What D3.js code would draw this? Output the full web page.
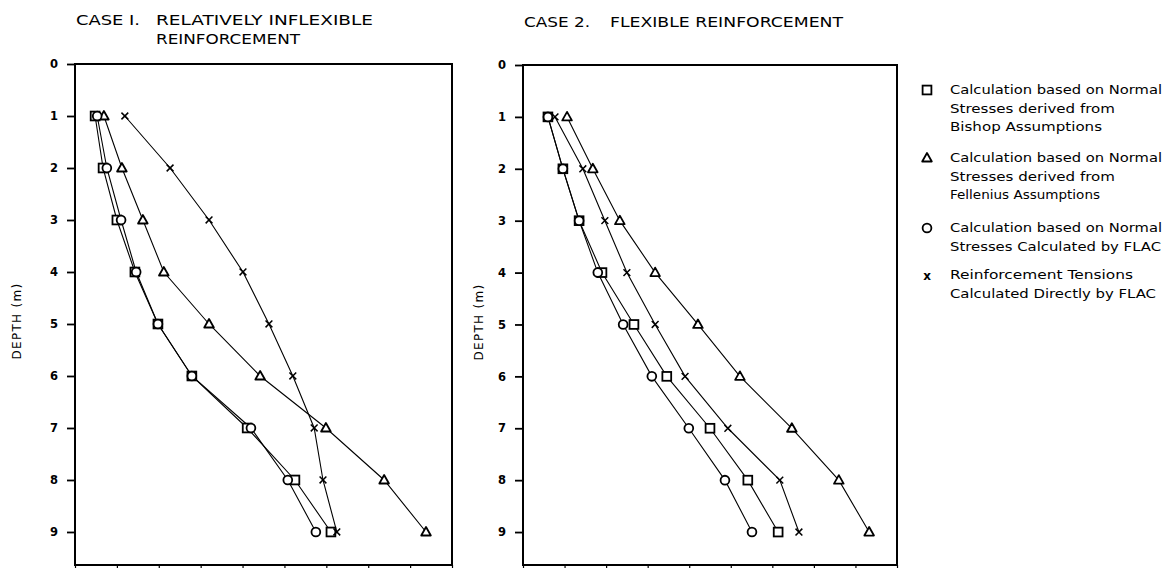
<!DOCTYPE html>
<html><head><meta charset="utf-8">
<script src="https://cdn.jsdelivr.net/npm/d3@7/dist/d3.min.js"></script>
<style>body{margin:0;background:#fff}svg{display:block}text{font-family:"DejaVu Sans",sans-serif;fill:#000}</style>
</head><body>
<svg id="c" width="1163" height="568"></svg>
<script>
// Data (x in axis tick units, unlabeled in source; depth in m)
const depths = [1,2,3,4,5,6,7,8,9];
const yTicks = [0,1,2,3,4,5,6,7,8,9];
const xTicks = [0,1,2,3,4,5,6,7,8,9];

const case1Bishop    = [0.48,0.67,1.00,1.43,1.98,2.79,4.11,5.25,6.11];
const case1Fellenius = [0.69,1.12,1.62,2.12,3.20,4.42,5.99,7.38,8.38];
const case1Flac      = [0.53,0.76,1.10,1.46,1.98,2.79,4.20,5.08,5.75];
const case1Direct    = [1.19,2.27,3.20,4.01,4.63,5.20,5.71,5.92,6.25];

const case2Bishop    = [0.60,0.96,1.35,1.90,2.67,3.46,4.50,5.41,6.14];
const case2Fellenius = [1.06,1.68,2.33,3.18,4.21,5.22,6.47,7.60,8.33];
const case2Flac      = [0.60,0.96,1.35,1.80,2.41,3.10,3.99,4.86,5.51];
const case2Direct    = [0.77,1.44,1.97,2.50,3.18,3.90,4.93,6.18,6.64];

const seriesSymbols = ["square","triangle","circle","cross"];
const legendLines = [
  ["Calculation based on Normal","Stresses derived from","Bishop  Assumptions"],
  ["Calculation based on Normal","Stresses derived from","Fellenius Assumptions"],
  ["Calculation based on Normal","Stresses Calculated by FLAC"],
  ["Reinforcement Tensions","Calculated Directly by FLAC"]
];

const svg = d3.select("#c");

function marker(g, type, x, y){
  const s = 4.4;
  if(type==="square"){
    g.append("rect").attr("x",x-s).attr("y",y-s).attr("width",2*s).attr("height",2*s)
      .attr("fill","#fff").attr("stroke","#000").attr("stroke-width",1.8);
  } else if(type==="circle"){
    g.append("circle").attr("cx",x).attr("cy",y).attr("r",4.4)
      .attr("fill","#fff").attr("stroke","#000").attr("stroke-width",1.8);
  } else if(type==="triangle"){
    g.append("path").attr("d",`M${x},${y-5}L${x+4.8},${y+3.5}L${x-4.8},${y+3.5}Z`)
      .attr("fill","#fff").attr("stroke","#000").attr("stroke-width",1.8).attr("stroke-linejoin","round");
  } else {
    const c=3.4;
    g.append("path").attr("d",`M${x-c},${y-c}L${x+c},${y+c}M${x+c},${y-c}L${x-c},${y+c}`)
      .attr("stroke","#000").attr("stroke-width",1.5).attr("fill","none");
  }
}

function panel(cfg){
  const x = d3.scaleLinear().domain([0,9]).range([cfg.x0,cfg.x1]);
  const y = d3.scaleLinear().domain([0,9.635]).range([cfg.y0,cfg.y1]);
  const g = svg.append("g");

  // y axis
  const ya = g.append("g").attr("transform",`translate(${cfg.x0},0)`)
    .call(d3.axisLeft(y).tickValues(yTicks).tickSize(8).tickPadding(9).tickFormat(d3.format("d")));
  ya.select(".domain").remove();
  ya.selectAll(".tick line").attr("stroke","#000").attr("stroke-width",1.8);
  ya.selectAll(".tick text").attr("font-size",11.5).attr("font-weight","bold")
    .attr("font-family","'DejaVu Sans',sans-serif").attr("fill","#000");

  // x axis (unlabeled)
  const xa = g.append("g").attr("transform",`translate(0,${cfg.y1})`)
    .call(d3.axisBottom(x).tickValues(xTicks).tickSize(4).tickFormat(""));
  xa.select(".domain").remove();
  xa.selectAll(".tick line").attr("stroke","#000").attr("stroke-width",1.2);

  // frame
  g.append("rect").attr("x",cfg.x0).attr("y",cfg.y0).attr("width",cfg.x1-cfg.x0).attr("height",cfg.y1-cfg.y0)
    .attr("fill","none").attr("stroke","#000").attr("stroke-width",2);

  // series
  const line = d3.line().x(d=>x(d[0])).y(d=>y(d[1]));
  cfg.series.forEach((vals,i)=>{
    const pts = vals.map((v,k)=>[v,depths[k]]);
    g.append("path").attr("d",line(pts)).attr("fill","none").attr("stroke","#000").attr("stroke-width",1.1);
  });
  cfg.series.forEach((vals,i)=>{
    vals.forEach((v,k)=>marker(g, seriesSymbols[i], x(v), y(depths[k])));
  });

  // depth label
  g.append("text").attr("transform",`translate(${cfg.labelX},${cfg.labelY}) rotate(-90)`)
    .attr("text-anchor","middle").attr("font-size",12).attr("letter-spacing",1.3)
    .text("DEPTH (m)");

  // title
  cfg.title.forEach(t=>{
    g.append("text").attr("x",t.x).attr("y",t.y).attr("font-size",14.5)
      .attr("textLength",t.w).attr("lengthAdjust","spacingAndGlyphs").text(t.s);
  });
}

panel({x0:75,x1:452,y0:64,y1:565,labelX:21,labelY:321,
  series:[case1Bishop,case1Fellenius,case1Flac,case1Direct],
  title:[{s:"CASE I.",x:76,y:25,w:64},{s:"RELATIVELY INFLEXIBLE",x:156,y:25,w:217},{s:"REINFORCEMENT",x:156,y:44,w:144}]});
panel({x0:523,x1:897,y0:65,y1:565,labelX:483,labelY:322,
  series:[case2Bishop,case2Fellenius,case2Flac,case2Direct],
  title:[{s:"CASE 2.",x:524,y:27,w:66},{s:"FLEXIBLE REINFORCEMENT",x:610,y:27,w:233}]});

// legend
const lg = svg.append("g");
const legendY = [90,158,228,275];
const legendW = [[212,165,152],[212,165,150],[212,211],[183,206]];
legendLines.forEach((lines,i)=>{
  const yy = legendY[i];
  if(seriesSymbols[i]==="cross"){
    lg.append("text").attr("x",927).attr("y",yy+5).attr("text-anchor","middle").attr("font-size",12).attr("font-weight","bold").text("x");
  } else marker(lg, seriesSymbols[i], 927, yy);
  lines.forEach((s,j)=>{
    lg.append("text").attr("x",950).attr("y",yy+4+j*18.5).attr("font-size",12.5)
      .attr("textLength",legendW[i][j]).attr("lengthAdjust","spacingAndGlyphs").text(s);
  });
});
</script>
</body></html>
